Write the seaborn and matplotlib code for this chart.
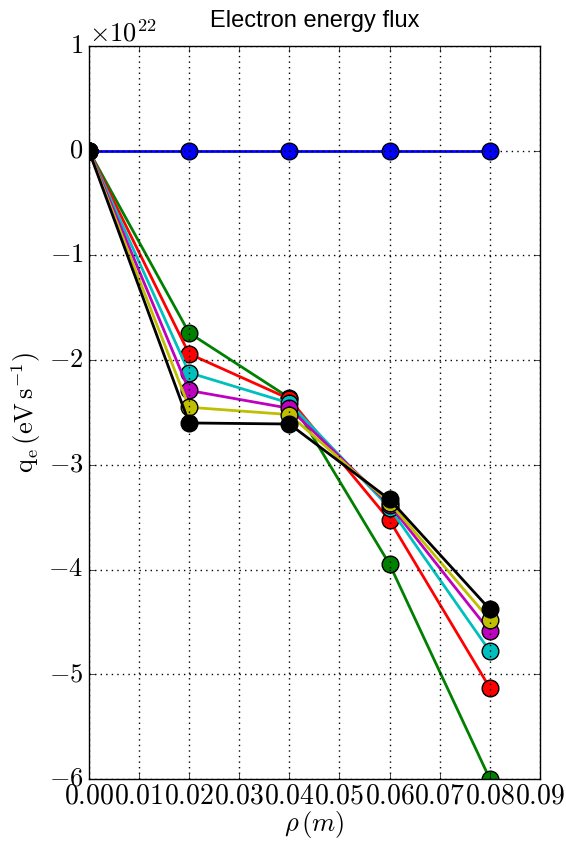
import numpy as np
import pandas as pd
import matplotlib
matplotlib.use("Agg")
import matplotlib.pyplot as plt
import seaborn as sns
from matplotlib.ticker import FuncFormatter, MultipleLocator

# radial positions (m)
rho = [0.00, 0.02, 0.04, 0.06, 0.08]

# electron energy flux, units of 1e22 eV/s
q_blue = [0, 0, 0, 0, 0]
q_green = [0, -1.74, -2.36, -3.95, -6.00]
q_red = [0, -1.94, -2.37, -3.53, -5.13]
q_cyan = [0, -2.12, -2.41, -3.41, -4.78]
q_magenta = [0, -2.29, -2.46, -3.38, -4.59]
q_yellow = [0, -2.45, -2.52, -3.36, -4.48]
q_black = [0, -2.60, -2.61, -3.33, -4.38]

series = {"b": q_blue, "g": q_green, "r": q_red, "c": q_cyan,
          "m": q_magenta, "y": q_yellow, "k": q_black}
colors = {"b": "#0000ff", "g": "#008000", "r": "#ff0000", "c": "#00bfbf",
          "m": "#bf00bf", "y": "#bfbf00", "k": "#000000"}

rows = []
for name, vals in series.items():
    for x, v in zip(rho, vals):
        rows.append({"rho": x, "q": v * 1e22, "run": name})
df = pd.DataFrame(rows)

plt.style.use("classic")
plt.rcParams["font.family"] = "serif"
plt.rcParams["font.serif"] = ["cmr10"]
plt.rcParams["mathtext.fontset"] = "cm"
plt.rcParams["axes.formatter.use_mathtext"] = True

fig = plt.figure(figsize=(5.66, 8.47), dpi=100, facecolor="white")
ax = fig.add_axes([0.157, 0.0803, 0.797, 0.8654])

for name in series:
    sns.lineplot(data=df[df["run"] == name], x="rho", y="q", ax=ax,
                 color=colors[name], marker="o", markersize=12,
                 markeredgecolor="black", markeredgewidth=1,
                 linewidth=2, legend=False)

ax.set_xlim(0, 0.09)
ax.set_ylim(-6e22, 1e22)
ax.xaxis.set_major_locator(MultipleLocator(0.01))
ax.xaxis.set_major_formatter(FuncFormatter(lambda v, p: "$%.2f$" % v))
ax.yaxis.set_major_locator(MultipleLocator(1e22))
ax.grid(True, color="black", linestyle=":", linewidth=1)
ax.tick_params(axis="y", labelsize=19)
ax.tick_params(axis="x", labelsize=20, pad=3)
ax.yaxis.get_offset_text().set_fontsize(19)

ax.set_xlabel(r"$\rho\,(m)$", fontsize=19, labelpad=0)
ax.set_ylabel(r"$\mathrm{q_e\,(eV\,s^{-1})}$", fontsize=19, labelpad=4)
ax.set_title("Electron energy flux", fontsize=17, family="Liberation Sans", pad=14)

fig.savefig("out.png", dpi=100, facecolor="white")
